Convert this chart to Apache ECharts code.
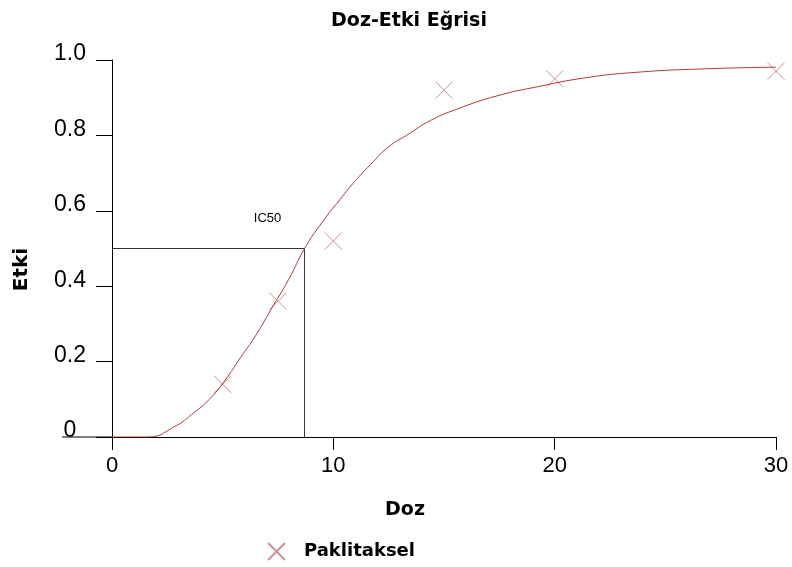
<!DOCTYPE html>
<html>
<head>
<meta charset="utf-8">
<script src="https://cdn.jsdelivr.net/npm/echarts@6/dist/echarts.min.js"></script>
<style>
  html, body { margin: 0; padding: 0; background: #fff; }
  #main { width: 792px; height: 567px; }
</style>
</head>
<body>
<div id="main"></div>
<script>
// measured points (Paklitaksel)
const doseData = [5, 7.5, 10, 15, 20, 30];
const effectData = [0.14, 0.36, 0.52, 0.92, 0.95, 0.97];

// fitted curve
const curveDose = [0, 1.6, 2.9, 3.6, 4.4, 5.1, 5.8, 6.5, 7.3, 8.0, 8.7, 9.5, 10.3, 11.0, 11.8, 12.5, 13.3, 14.4, 15.6, 17.4, 19.3, 21.3, 23.4, 26.5, 30];
const curveEffect = [0, 0, 0.03, 0.06, 0.10, 0.15, 0.21, 0.27, 0.35, 0.42, 0.50, 0.57, 0.63, 0.68, 0.73, 0.77, 0.80, 0.84, 0.87, 0.905, 0.93, 0.952, 0.966, 0.976, 0.981];

const ic50 = 8.7;
const ic50Level = 0.5;

const xTicks = [0, 10, 20, 30];
const yTicks = [0, 0.2, 0.4, 0.6, 0.8, 1.0];

const crossIcon = "path://M0,0L10,10M10,0L0,10";

const chartDom = document.getElementById("main");
const myChart = echarts.init(chartDom);

const option = {
  animation: false,
  backgroundColor: "#fff",
  title: {
    text: "Doz-Etki Eğrisi",
    left: 404,
    textAlign: "center",
    top: 7,
    textStyle: { fontFamily: "DejaVu Sans", fontWeight: "bold", fontSize: 19, color: "#000" },
  },
  legend: {
    left: 262,
    top: 537,
    itemWidth: 17,
    itemHeight: 17,
    data: [{ name: "Paklitaksel", icon: crossIcon }],
    textStyle: { fontFamily: "DejaVu Sans", fontWeight: "bold", fontSize: 18, color: "#000", padding: [0, 0, 0, 14] },
  },
  grid: { left: 112, right: 16, top: 60, bottom: 130 },
  xAxis: {
    type: "value",
    min: xTicks[0],
    max: xTicks[xTicks.length - 1],
    interval: 10,
    name: "Doz",
    nameLocation: "middle",
    nameGap: 64,
    nameTextStyle: { fontFamily: "DejaVu Sans", fontWeight: "bold", fontSize: 19, color: "#000", padding: [0, 78, 0, 0] },
    axisLine: { onZero: false, lineStyle: { color: "#000", width: 1 } },
    axisTick: { show: true, length: 13, lineStyle: { color: "#000" } },
    axisLabel: { margin: 18, fontFamily: "Liberation Sans", fontSize: 22, color: "#000" },
    splitLine: { show: false },
  },
  yAxis: {
    type: "value",
    min: yTicks[0],
    max: yTicks[yTicks.length - 1],
    interval: 0.2,
    name: "Etki",
    nameLocation: "middle",
    nameGap: 80,
    nameRotate: 90,
    nameTextStyle: { fontFamily: "DejaVu Sans", fontWeight: "bold", fontSize: 20, color: "#000", padding: [0, 42, 0, 0] },
    axisLine: { onZero: false, lineStyle: { color: "#000", width: 1 } },
    axisTick: { show: true, length: 16, lineStyle: { color: "#000" } },
    axisLabel: {
      margin: 42,
      align: "center",
      verticalAlign: "bottom",
      lineHeight: 12,
      fontFamily: "Liberation Sans",
      fontSize: 23,
      color: "#000",
      formatter: (v) => (v === 0 ? "0" : v.toFixed(1)),
    },
    splitLine: { show: false },
  },
  series: [
    {
      name: "IC50",
      type: "line",
      silent: true,
      showSymbol: false,
      lineStyle: { color: "#333", width: 1 },
      data: [[0, ic50Level], [ic50, ic50Level], [ic50, 0]],
      markPoint: {
        symbol: "circle",
        symbolSize: 0,
        data: [{ coord: [ic50, ic50Level] }],
        label: {
          show: true,
          formatter: "IC50",
          offset: [-37, -30],
          fontFamily: "Liberation Sans",
          fontSize: 13,
          color: "#000",
        },
      },
    },
    {
      name: "curve",
      type: "line",
      smooth: 0.5,
      showSymbol: false,
      lineStyle: { color: "#b03a3a", width: 1 },
      data: curveDose.map((d, i) => [d, curveEffect[i]]),
    },
    {
      name: "Paklitaksel",
      type: "scatter",
      symbol: crossIcon,
      symbolSize: 17,
      itemStyle: { color: "rgba(0,0,0,0)", borderColor: "#c47474", borderWidth: 1 },
      data: doseData.map((d, i) => [d, effectData[i]]),
    },
  ],
};

myChart.setOption(option);

// the zero line runs a bit to the left of the y axis
const origin = myChart.convertToPixel({ gridIndex: 0 }, [0, 0]);
myChart.setOption({
  graphic: [
    {
      type: "line",
      shape: { x1: origin[0] - 50, y1: origin[1], x2: origin[0], y2: origin[1] },
      style: { stroke: "#000", lineWidth: 1 },
    },
  ],
});
</script>
</body>
</html>
